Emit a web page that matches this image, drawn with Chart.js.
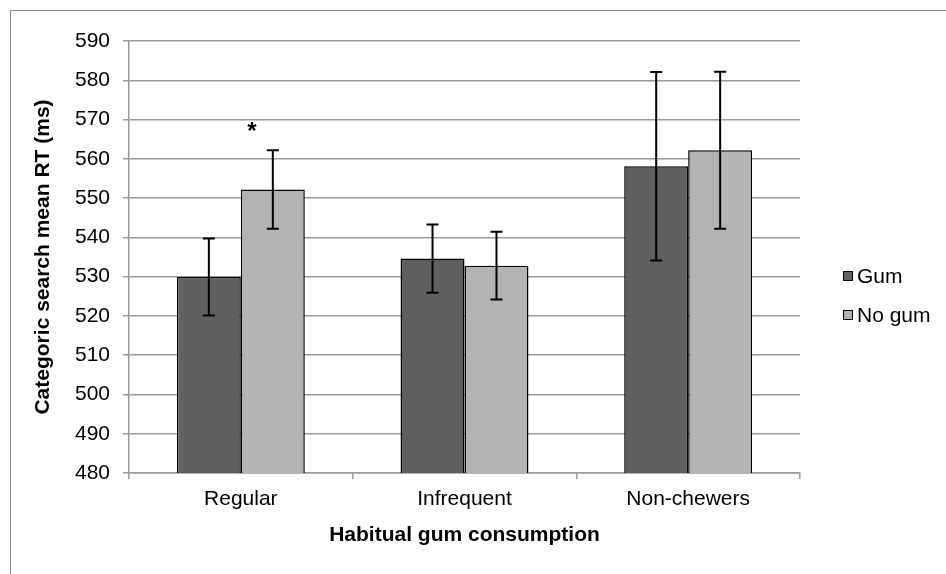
<!DOCTYPE html>
<html>
<head>
<meta charset="utf-8">
<script src="https://cdn.jsdelivr.net/npm/chart.js@4"></script>
<style>
  html, body { margin: 0; padding: 0; background: #fff; }
  #frame {
    position: absolute; left: 10px; top: 10px; width: 960px; height: 600px;
    border-left: 1.5px solid #8c8c8c; border-top: 1.5px solid #8c8c8c;
  }
  #wrap { position: absolute; left: 0; top: 0; width: 946px; height: 574px; }
</style>
</head>
<body>
<div id="frame"></div>
<div id="wrap"><canvas id="rtChart" width="946" height="574"></canvas></div>
<script>
const categories = ['Regular', 'Infrequent', 'Non-chewers'];
const gumMeans = [529.9, 534.6, 558.1];
const gumErrors = [9.8, 8.7, 24.0];
const noGumMeans = [552.2, 532.8, 562.2];
const noGumErrors = [10.0, 8.6, 20.0];
const noGumMarks = ['*', '', ''];
const yTicks = [480, 490, 500, 510, 520, 530, 540, 550, 560, 570, 580, 590];

const FONT = "'Liberation Sans', Arial, sans-serif";
const FSIZE = 21;
const GRID = '#9a9a9a';

// error bars, significance star and the legend on the right
const extras = {
  id: 'extras',
  afterDatasetsDraw(chart) {
    const ctx = chart.ctx;
    const y = chart.scales.y;
    ctx.save();
    ctx.strokeStyle = '#000';
    ctx.lineWidth = 2;
    chart.data.datasets.forEach((ds, di) => {
      const meta = chart.getDatasetMeta(di);
      meta.data.forEach((bar, i) => {
        const err = ds.errors[i];
        const top = y.getPixelForValue(ds.data[i] + err);
        const bot = y.getPixelForValue(ds.data[i] - err);
        ctx.beginPath();
        ctx.moveTo(bar.x, top); ctx.lineTo(bar.x, bot);
        ctx.moveTo(bar.x - 6, top); ctx.lineTo(bar.x + 6, top);
        ctx.moveTo(bar.x - 6, bot); ctx.lineTo(bar.x + 6, bot);
        ctx.stroke();
        if (ds.marks && ds.marks[i]) {
          ctx.fillStyle = '#000';
          ctx.font = 'bold 24px ' + FONT;
          ctx.textAlign = 'center';
          ctx.textBaseline = 'middle';
          ctx.fillText(ds.marks[i], bar.x - 21, top - 18);
        }
      });
    });
    ctx.restore();
  },
  afterDraw(chart) {
    const ctx = chart.ctx;
    const area = chart.chartArea;
    const midY = (area.top + area.bottom) / 2;
    ctx.save();
    ctx.font = FSIZE + 'px ' + FONT;
    ctx.textBaseline = 'middle';
    ctx.textAlign = 'left';
    chart.data.datasets.forEach((ds, di) => {
      const cy = midY + 19 + di * 39;
      const bx = area.right + 43;
      ctx.fillStyle = ds.backgroundColor;
      ctx.fillRect(bx, cy - 5, 10, 10);
      ctx.strokeStyle = '#000';
      ctx.lineWidth = 1;
      ctx.strokeRect(bx + 0.5, cy - 4.5, 9, 9);
      ctx.fillStyle = '#000';
      ctx.fillText(ds.label, bx + 14, cy + 1);
    });
    ctx.restore();
  }
};

new Chart(document.getElementById('rtChart'), {
  type: 'bar',
  data: {
    labels: categories,
    datasets: [
      {
        label: 'Gum',
        data: gumMeans,
        errors: gumErrors,
        backgroundColor: '#606060',
        borderColor: '#000',
        borderWidth: 1.5,
        borderSkipped: false
      },
      {
        label: 'No gum',
        data: noGumMeans,
        errors: noGumErrors,
        marks: noGumMarks,
        backgroundColor: '#b3b3b3',
        borderColor: '#000',
        borderWidth: 1.5,
        borderSkipped: false
      }
    ]
  },
  options: {
    responsive: false,
    animation: false,
    layout: { padding: { top: 41, right: 146, left: 0, bottom: 0 } },
    datasets: { bar: { categoryPercentage: 0.572, barPercentage: 1.0 } },
    plugins: {
      legend: { display: false },
      tooltip: { enabled: false }
    },
    scales: {
      x: {
        offset: true,
        grid: { offset: true, drawOnChartArea: false, drawTicks: true, tickLength: 6, color: GRID, lineWidth: 1.5 },
        border: { color: GRID, width: 1.5 },
        ticks: { color: '#000', font: { family: FONT, size: FSIZE }, padding: 8 },
        title: {
          display: true,
          text: 'Habitual gum consumption',
          color: '#000',
          font: { family: FONT, size: FSIZE, weight: 'bold' },
          padding: { top: 6, bottom: 26 }
        },
        afterFit(axis) { axis.height = 101; }
      },
      y: {
        min: 480,
        max: 590,
        afterBuildTicks(axis) { axis.ticks = yTicks.map(v => ({ value: v })); },
        grid: { color: GRID, lineWidth: 1.5, tickLength: 6 },
        border: { color: GRID, width: 1.5 },
        ticks: { color: '#000', font: { family: FONT, size: FSIZE }, padding: 13 },
        title: {
          display: true,
          text: 'Categoric search mean RT (ms)',
          color: '#000',
          font: { family: FONT, size: FSIZE, weight: 'bold' },
          padding: { top: 31, bottom: 0 }
        },
        afterFit(axis) { axis.width = 129; }
      }
    }
  },
  plugins: [extras]
});
</script>
</body>
</html>
